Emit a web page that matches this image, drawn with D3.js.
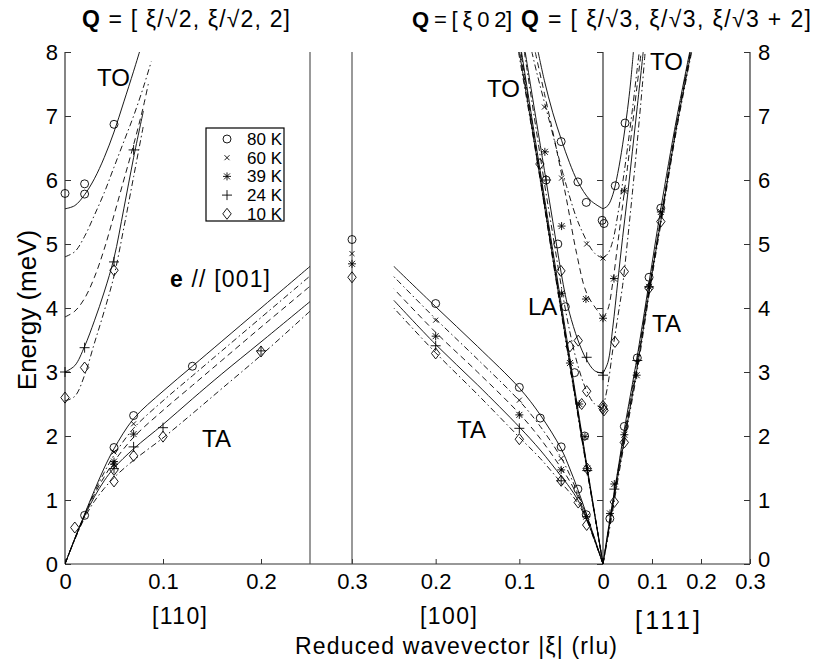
<!DOCTYPE html>
<html>
<head>
<meta charset="utf-8">
<script src="https://cdn.jsdelivr.net/npm/d3@7"></script>
<style>
  body { margin: 0; background: #fff; }
  svg text { font-family: "Liberation Sans", Arial, sans-serif; fill: #000; }
</style>
</head>
<body>
<div id="chart"></div>
<script>
// temperatures, in legend order
const temps = ["80 K", "60 K", "39 K", "24 K", "10 K"];

// dispersion curves: one array of [xi, E] per temperature (80, 60, 39, 24, 10 K)
const to110 = [
  [[0,5.55],[0.01,5.6],[0.02,5.77],[0.03,6.02],[0.04,6.35],[0.05,6.75],[0.06,7.22],[0.07,7.7],[0.077,8.05]],
  [[0,4.8],[0.01,4.88],[0.02,5.12],[0.03,5.45],[0.04,5.8],[0.05,6.2],[0.06,6.6],[0.07,7.0],[0.08,7.45],[0.088,7.85]],
  [[0,3.86],[0.01,3.95],[0.02,4.15],[0.03,4.48],[0.04,4.92],[0.05,5.45],[0.06,6.0],[0.07,6.55],[0.08,7.15],[0.085,7.5]],
  [[0,3.0],[0.01,3.1],[0.02,3.4],[0.03,3.8],[0.04,4.25],[0.05,4.78],[0.06,5.55],[0.07,6.35],[0.08,7.08]],
  [[0,2.55],[0.01,2.62],[0.02,2.95],[0.03,3.45],[0.04,3.95],[0.05,4.5],[0.06,5.25],[0.07,6.05],[0.08,6.85]]
];
const ta110 = [
  [[0,0],[0.01,0.4],[0.02,0.78],[0.03,1.15],[0.04,1.5],[0.05,1.8],[0.07,2.27],[0.1,2.7],[0.13,3.09],[0.16,3.48],[0.2,4.0],[0.25,4.65]],
  [[0,0],[0.01,0.4],[0.02,0.77],[0.03,1.12],[0.04,1.43],[0.05,1.7],[0.07,2.12],[0.1,2.55],[0.13,2.94],[0.16,3.33],[0.2,3.85],[0.25,4.5]],
  [[0,0],[0.01,0.39],[0.02,0.76],[0.03,1.09],[0.04,1.36],[0.05,1.6],[0.07,1.98],[0.1,2.4],[0.13,2.79],[0.16,3.18],[0.2,3.7],[0.25,4.34]],
  [[0,0],[0.01,0.39],[0.02,0.75],[0.03,1.05],[0.04,1.3],[0.05,1.5],[0.07,1.8],[0.1,2.18],[0.13,2.58],[0.16,2.97],[0.2,3.47],[0.25,4.1]],
  [[0,0],[0.01,0.38],[0.02,0.72],[0.03,0.98],[0.04,1.18],[0.05,1.35],[0.07,1.62],[0.1,1.97],[0.13,2.35],[0.16,2.74],[0.2,3.26],[0.25,3.95]]
];
const to100 = [
  [[0,5.55],[0.0156,5.69],[0.03,5.97],[0.04,6.27],[0.0495,6.62],[0.06,7.05],[0.07,7.55],[0.0775,8.0]],
  [[0,4.78],[0.0096,4.85],[0.0275,5.27],[0.0435,5.9],[0.0635,6.89],[0.0794,7.69],[0.085,8.0]],
  [[0,3.84],[0.0056,3.94],[0.0195,4.23],[0.0315,4.85],[0.0435,5.69],[0.0575,6.6],[0.07,7.35],[0.081,8.0]],
  [[0,2.98],[0.01,3.02],[0.02,3.2],[0.03,3.5],[0.04,3.92],[0.045,4.2],[0.05,4.55],[0.06,5.35],[0.07,6.15],[0.08,6.95],[0.093,8.0]],
  [[0,2.43],[0.01,2.5],[0.02,2.72],[0.03,3.1],[0.04,3.65],[0.05,4.35],[0.06,5.15],[0.07,5.95],[0.08,6.8],[0.094,8.0]]
];
const la100 = [
  [[0,0],[0.02,1.6],[0.04,3.25],[0.06,4.9],[0.08,6.55],[0.0974,8.0]],
  [[0,0],[0.02,1.58],[0.04,3.2],[0.06,4.85],[0.08,6.5],[0.098,8.0]],
  [[0,0],[0.02,1.56],[0.04,3.17],[0.06,4.8],[0.08,6.45],[0.099,8.0]],
  [[0,0],[0.02,1.55],[0.04,3.15],[0.06,4.78],[0.08,6.42],[0.1,8.0]],
  [[0,0],[0.02,1.53],[0.04,3.12],[0.06,4.75],[0.08,6.4],[0.101,8.0]]
];
const ta100 = [
  [[0,0],[0.01,0.4],[0.02,0.79],[0.03,1.16],[0.04,1.5],[0.05,1.8],[0.075,2.33],[0.1,2.75],[0.15,3.4],[0.2,4.02],[0.25,4.65]],
  [[0,0],[0.01,0.39],[0.02,0.76],[0.03,1.1],[0.04,1.4],[0.05,1.66],[0.075,2.15],[0.1,2.55],[0.15,3.2],[0.2,3.83],[0.25,4.49]],
  [[0,0],[0.01,0.38],[0.02,0.74],[0.03,1.05],[0.04,1.3],[0.05,1.5],[0.075,1.96],[0.1,2.35],[0.15,3.0],[0.2,3.62],[0.25,4.3]],
  [[0,0],[0.01,0.37],[0.02,0.72],[0.03,1.0],[0.04,1.2],[0.05,1.37],[0.075,1.78],[0.1,2.14],[0.15,2.8],[0.2,3.43],[0.25,4.12]],
  [[0,0],[0.01,0.36],[0.02,0.7],[0.03,0.95],[0.04,1.12],[0.05,1.27],[0.075,1.65],[0.1,1.98],[0.15,2.65],[0.2,3.3],[0.25,4.0]]
];
const to111 = [
  [[0,5.55],[0.01,5.6],[0.02,5.77],[0.03,6.1],[0.04,6.55],[0.05,7.1],[0.056,7.5],[0.062,8.0]],
  [[0,4.78],[0.01,4.85],[0.02,5.05],[0.03,5.45],[0.04,5.95],[0.05,6.5],[0.06,7.1],[0.07,7.75],[0.074,8.0]],
  [[0,3.84],[0.01,3.98],[0.02,4.4],[0.03,5.0],[0.04,5.6],[0.05,6.2],[0.06,6.85],[0.07,7.5],[0.078,8.0]],
  [[0,2.98],[0.01,3.15],[0.02,3.7],[0.03,4.4],[0.04,5.1],[0.05,5.75],[0.06,6.45],[0.07,7.15],[0.08,7.85],[0.082,8.0]],
  [[0,2.43],[0.01,2.8],[0.02,3.35],[0.03,3.85],[0.04,4.35],[0.05,5.05],[0.06,5.8],[0.07,6.6],[0.08,7.45],[0.086,8.0]]
];
const ta111 = [
  [[0,0],[0.0143,0.72],[0.03,1.45],[0.0435,2.1],[0.07,3.25],[0.094,4.4],[0.118,5.55],[0.15,6.95],[0.177,8.0]],
  [[0,0],[0.015,0.72],[0.03,1.43],[0.045,2.1],[0.07,3.2],[0.095,4.37],[0.12,5.5],[0.15,6.9],[0.178,8.0]],
  [[0,0],[0.015,0.7],[0.03,1.4],[0.045,2.05],[0.07,3.12],[0.095,4.33],[0.12,5.48],[0.15,6.85],[0.179,8.0]],
  [[0,0],[0.015,0.68],[0.03,1.36],[0.045,2.0],[0.07,3.08],[0.095,4.3],[0.12,5.45],[0.15,6.82],[0.18,8.0]],
  [[0,0],[0.016,0.66],[0.03,1.3],[0.045,1.95],[0.07,3.02],[0.095,4.25],[0.12,5.4],[0.15,6.78],[0.181,8.0]]
];

// measured points: [direction, xi, E]
const pts80 = [
  ["110",0,5.79],["110",0.02,5.94],["110",0.02,5.78],["110",0.05,6.87],
  ["110",0.02,0.76],["110",0.05,1.82],["110",0.07,2.32],["110",0.13,3.09],
  ["100",0.3,5.07],["100",0.2,4.07],["100",0.1,2.76],["100",0.075,2.28],["100",0.05,1.83],["100",0.03,1.17],["100",0.02,0.77],
  ["100",0.05,6.6],["100",0.03,5.97],["100",0.02,5.65],["100",0.001,5.37],["100",0.068,6.0],
  ["100",0.054,5.0],["100",0.045,4.02],["100",0.034,2.99],["100",0.022,2.0],
  ["111",0.002,5.32],["111",0.025,5.91],["111",0.045,6.89],["111",0.118,5.56],["111",0.094,4.48],["111",0.07,3.22],["111",0.0435,2.15],["111",0.014,0.71]
];
const pts60 = [
  ["110",0.05,1.75],["110",0.07,2.19],
  ["100",0.3,4.85],["100",0.2,3.81],["100",0.1,2.56],["100",0.05,1.65],
  ["100",0.07,7.14],["100",0.0495,6.03],["100",0.0195,5.0],["100",0,4.78]
];
const pts39 = [
  ["110",0.05,1.6],["110",0.05,1.56],["110",0.07,2.03],
  ["100",0.3,4.69],["100",0.2,3.56],["100",0.1,2.33],["100",0.05,1.47],["100",0.02,0.74],
  ["100",0.0695,6.44],["100",0.0495,5.28],["100",0.0495,4.23],["100",0.0204,4.14],["100",0,3.84],
  ["100",0.0395,3.14],["100",0.0284,2.5],["100",0.0216,1.99],["100",0.0188,1.49],
  ["111",0.0435,5.83],["111",0.0224,4.46],["111",0.118,5.5],["111",0.0687,2.95],["111",0.0435,2.02],["111",0.0231,1.25],["111",0.0143,0.79],["111",0.094,4.33]
];
const pts24 = [
  ["110",0,3.0],["110",0.02,3.38],["110",0.05,4.72],["110",0.07,6.47],["110",0.05,1.49],["110",0.07,1.83],["110",0.1,2.13],["110",0.2,3.33],
  ["100",0.2,3.41],["100",0.1,2.12],["100",0.05,1.3],["100",0.0195,3.23],["100",0,2.95],["100",0.0188,1.46],["100",0.068,6.0],
  ["111",0.0231,1.17],["111",0.07,3.18],["111",0.094,4.33]
];
const pts10 = [
  ["110",0,2.6],["110",0.02,3.07],["110",0.05,4.59],["110",0.01,0.57],["110",0.05,1.29],["110",0.05,1.47],["110",0.07,1.69],["110",0.1,1.99],["110",0.2,3.32],
  ["100",0.3,4.48],["100",0.2,3.29],["100",0.1,1.95],["100",0.05,1.3],["100",0.0296,0.96],["100",0.0195,0.61],
  ["100",0.0754,6.25],["100",0.0503,4.58],["100",0.0395,3.4],["100",0.0296,3.49],["100",0.0195,2.7],["100",0.0255,2.5],["100",0,2.43],["100",0.0188,1.49],
  ["111",0,2.47],["111",0.002,2.4],["111",0.0245,3.47],["111",0.0435,4.57],["111",0.118,5.35],["111",0.094,4.31],["111",0.0435,1.9],["111",0.0231,0.97]
];

// tick values per direction
const ticks110 = [0, 0.1, 0.2];
const ticks100 = [0.3, 0.2, 0.1, 0];
const ticks111 = [0.1, 0.2, 0.3];
const ticksE = [0, 1, 2, 3, 4, 5, 6, 7, 8];

const allPts = [pts80, pts60, pts39, pts24, pts10];

// line styles, matlab-ish
const dashes = [null, "6,3,1.5,3", "6,4", null, "6,3,1.5,3"];
const markerPaths = [
  "M4,0A4,4 0 1,1 -4,0A4,4 0 1,1 4,0Z",
  "M-2.5,-2.5L2.5,2.5M-2.5,2.5L2.5,-2.5",
  "M-4,0H4M0,-4V4M-3,-3L3,3M-3,3L3,-3",
  "M-5,0H5M0,-5V5",
  "M0,-5.5L4.2,0L0,5.5L-4.2,0Z"
];

const width = 823, height = 664;
const yTop = 52, yBot = 564;

const svg = d3.select("#chart").append("svg")
  .attr("width", width)
  .attr("height", height);

const x110 = d3.scaleLinear().domain([0, 0.25]).range([65, 310]);
const x100 = d3.scaleLinear().domain([0.3, 0]).range([352, 603]);
const x111 = d3.scaleLinear().domain([0, 0.3]).range([603, 750]);
const y = d3.scaleLinear().domain([0, 8]).range([yBot, yTop]);
const xOf = { "110": x110, "100": x100, "111": x111 };

// clip each direction to its own panel
const defs = svg.append("defs");
[["c110", x110], ["c100", x100], ["c111", x111]].forEach(([id, sc]) => {
  const r = sc.range();
  defs.append("clipPath").attr("id", id).append("rect")
    .attr("x", Math.min(r[0], r[1])).attr("y", yTop)
    .attr("width", Math.abs(r[1] - r[0])).attr("height", yBot - yTop);
});

// ---------- axes ----------
const axisColor = "#333";
function styleAxis(g) {
  g.select(".domain").remove();
  g.selectAll(".tick line").attr("stroke", axisColor).attr("stroke-width", 1);
  g.selectAll(".tick text").style("font-size", "22px").attr("fill", "#000");
}

svg.append("g")
  .attr("transform", `translate(65,0)`)
  .call(d3.axisLeft(y).tickValues(ticksE).tickSize(-6).tickPadding(7).tickFormat(d3.format("d")))
  .call(styleAxis);

const rightAxis = svg.append("g")
  .attr("transform", `translate(750,0)`)
  .call(d3.axisRight(y).tickValues(ticksE).tickSize(-6).tickPadding(8).tickFormat(d3.format("d")))
  .call(styleAxis);
// the right-hand "0" sits a little higher, clear of the 0.3 below it
rightAxis.selectAll(".tick text").filter(d => d === 0).attr("dy", "0.1em");

svg.append("g")
  .attr("transform", `translate(603,0)`)
  .call(d3.axisLeft(y).tickValues(ticksE).tickSize(6).tickFormat(""))
  .call(styleAxis);

const fmtX = d => d === 0 ? "0" : d3.format(".1f")(d);
[[x110, ticks110], [x100, ticks100], [x111, ticks111]].forEach(([sc, tv]) => {
  svg.append("g")
    .attr("transform", `translate(0,${yBot})`)
    .call(d3.axisBottom(sc).tickValues(tv).tickSize(-5).tickPadding(9).tickFormat(fmtX))
    .call(styleAxis);
});

// frame and panel separators
const frame = svg.append("g").attr("stroke", axisColor).attr("stroke-width", 1.2);
frame.append("line").attr("x1", 65).attr("x2", 750).attr("y1", yBot).attr("y2", yBot);
[65, 750, 603].forEach(xp => {
  frame.append("line").attr("x1", xp).attr("x2", xp).attr("y1", yTop).attr("y2", yBot);
});
[x110(0.25), x100(0.3)].forEach(xp => {
  frame.append("line").attr("x1", xp).attr("x2", xp).attr("y1", yTop).attr("y2", yBot)
    .attr("stroke", "#555");
});

// ---------- curves ----------
function drawBranch(data, sc, clipId) {
  const line = d3.line()
    .x(d => sc(d[0]))
    .y(d => y(d[1]))
    .curve(d3.curveCatmullRom.alpha(0.5));
  const g = svg.append("g").attr("clip-path", `url(#${clipId})`);
  data.forEach((pts, i) => {
    g.append("path")
      .attr("d", line(pts))
      .attr("fill", "none")
      .attr("stroke", "#000")
      .attr("stroke-width", 0.9)
      .attr("stroke-dasharray", dashes[i]);
  });
}

drawBranch(to110, x110, "c110");
drawBranch(ta110, x110, "c110");
drawBranch(to100, x100, "c100");
drawBranch(la100, x100, "c100");
drawBranch(ta100, x100, "c100");
drawBranch(to111, x111, "c111");
drawBranch(ta111, x111, "c111");

// ---------- measured points ----------
allPts.forEach((pts, i) => {
  svg.append("g").selectAll("path")
    .data(pts)
    .join("path")
    .attr("transform", d => `translate(${xOf[d[0]](d[1])},${y(d[2])})`)
    .attr("d", markerPaths[i])
    .attr("fill", "none")
    .attr("stroke", "#000")
    .attr("stroke-width", 0.9);
});

// ---------- legend ----------
const leg = svg.append("g").attr("transform", "translate(206,128)");
leg.append("rect").attr("width", 78).attr("height", 93)
  .attr("fill", "#fff").attr("stroke", "#000").attr("stroke-width", 1.2);
temps.forEach((t, i) => {
  const row = leg.append("g").attr("transform", `translate(0,${11 + i * 18.7})`);
  row.append("path").attr("transform", "translate(21,0)")
    .attr("d", markerPaths[i]).attr("fill", "none").attr("stroke", "#000").attr("stroke-width", 0.9);
  row.append("text").attr("x", 41).attr("y", 6).style("font-size", "17px").text(t);
});

// ---------- labels ----------
function label(x, yy, txt, size, anchor, len) {
  const t = svg.append("text").attr("x", x).attr("y", yy)
    .attr("text-anchor", anchor || "start")
    .style("font-size", size + "px").text(txt);
  if (len) t.attr("textLength", len).attr("lengthAdjust", "spacing");
  return t;
}

label(97, 86, "TO", 24);
label(202, 447, "TA", 24);
label(487, 97, "TO", 24);
label(528, 315, "LA", 24);
label(457, 438, "TA", 24);
label(650, 70, "TO", 24);
label(652, 332, "TA", 24);

const pol = svg.append("text").attr("x", 170).attr("y", 287).style("font-size", "23px")
  .attr("textLength", 100).attr("lengthAdjust", "spacing");
pol.append("tspan").attr("font-weight", "bold").text("e");
pol.append("tspan").text(" // [001]");

function title(x, rest, size, len) {
  const t = svg.append("text").attr("x", x).attr("y", 27).style("font-size", size + "px");
  if (len) t.attr("textLength", len).attr("lengthAdjust", "spacing");
  t.append("tspan").attr("font-weight", "bold").text("Q");
  t.append("tspan").text(rest);
}
title(82, " = [ \u03BE/\u221A2, \u03BE/\u221A2, 2]", 23, 208);
title(412, " = [ \u03BE 0 2]", 22, 100);
title(521, " = [ \u03BE/\u221A3, \u03BE/\u221A3, \u03BE/\u221A3 + 2]", 23, 290);

label(152, 624, "[110]", 23, "start", 55);
label(420, 624, "[100]", 23, "start", 57);
label(635, 629, "[111]", 25, "start", 65);
label(295, 654, "Reduced wavevector |\u03BE| (rlu)", 23, "start", 322);

svg.append("text")
  .attr("transform", "translate(36,310) rotate(-90)")
  .attr("text-anchor", "middle")
  .style("font-size", "26px")
  .text("Energy (meV)");
</script>
</body>
</html>
